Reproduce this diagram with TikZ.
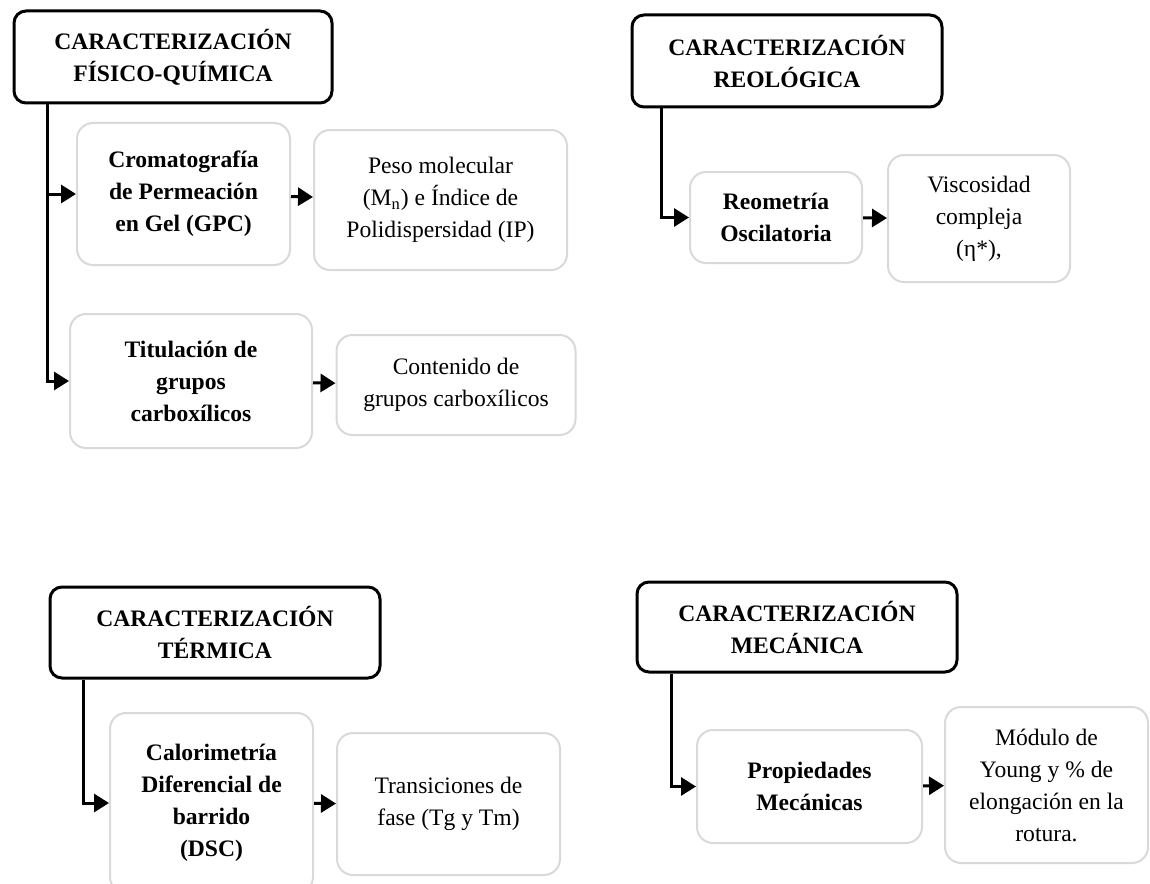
\documentclass[tikz,border=0pt]{standalone}
\usepackage{fontspec}
\setmainfont{Liberation Serif}
\usetikzlibrary{arrows.meta}

\tikzset{
  head/.style={draw, line width=1.5pt, rounded corners=6pt, align=center,
    inner sep=0pt, font=\fontsize{11.8}{16}\selectfont\bfseries},
  meth/.style={draw=black!15, line width=1pt, rounded corners=8pt, align=center,
    inner sep=0pt, font=\fontsize{11.8}{16}\selectfont\bfseries},
  res/.style={draw=black!15, line width=1pt, rounded corners=8pt, align=center,
    inner sep=0pt, font=\fontsize{11.8}{16}\selectfont},
}

\begin{document}
\begin{tikzpicture}[x=0.5pt, y=-0.5pt, line width=1.5pt, >={Triangle[length=7.5pt,width=9pt]}]
    \useasboundingbox (0,0) rectangle (1150,883);

    \node[head, minimum width=159pt, minimum height=46pt] (fq) at (173,57) {CARACTERIZACIÓN\\FÍSICO-QUÍMICA};
    \node[meth, minimum width=106.5pt, minimum height=71pt] (gpc) at (183.5,194) {Cromatografía\\de Permeación\\en Gel (GPC)};
    \node[res, minimum width=126.5pt, minimum height=70pt] (mn) at (440.5,200) {Peso molecular\\(M\textsubscript{n}) e Índice de\\Polidispersidad (IP)};
    \node[meth, minimum width=121pt, minimum height=67pt] (tit) at (191,381) {Titulación de\\grupos\\carboxílicos};
    \node[res, minimum width=119.5pt, minimum height=50pt] (carb) at (456,385) {Contenido de\\grupos carboxílicos};

    \node[head, minimum width=155pt, minimum height=46pt] (reo) at (787,61) {CARACTERIZACIÓN\\REOLÓGICA};
    \node[meth, minimum width=86pt, minimum height=45.5pt] (osc) at (776,217.5) {Reometría\\Oscilatoria};
    \node[res, minimum width=91pt, minimum height=63.5pt] (visc) at (979,218.5) {Viscosidad\\compleja\\(η*),};

    \node[head, minimum width=165pt, minimum height=45.5pt] (ter) at (215,632.5) {CARACTERIZACIÓN\\TÉRMICA};
    \node[meth, minimum width=101.5pt, minimum height=90pt] (dsc) at (211.5,803) {Calorimetría\\Diferencial de\\barrido\\(DSC)};
    \node[res, minimum width=111.5pt, minimum height=71pt] (trans) at (448.5,804) {Transiciones de\\fase (Tg y Tm)};

    \node[head, minimum width=160pt, minimum height=45pt] (mec) at (797,627) {CARACTERIZACIÓN\\MECÁNICA};
    \node[meth, minimum width=112.5pt, minimum height=56.5pt] (prop) at (809.5,786.5) {Propiedades\\Mecánicas};
    \node[res, minimum width=101.5pt, minimum height=78pt] (young) at (1046.5,785) {Módulo de\\Young y \% de\\elongación en la\\rotura.};

    \draw[->] ([xshift=17.5pt]fq.south west) |- (gpc.west);
    \draw[->] ([xshift=17.5pt]fq.south west) |- (tit.west);
    \draw[->] (gpc) -- (mn);
    \draw[->] (tit) -- (carb);

    \draw[->] ([xshift=15.5pt]reo.south west) |- (osc.west);
    \draw[->] (osc) -- (visc);

    \draw[->] ([xshift=17.5pt]ter.south west) |- (dsc.west);
    \draw[->] (dsc) -- (trans);

    \draw[->] ([xshift=18pt]mec.south west) |- (prop.west);
    \draw[->] (prop) -- (young);
\end{tikzpicture}
\end{document}
